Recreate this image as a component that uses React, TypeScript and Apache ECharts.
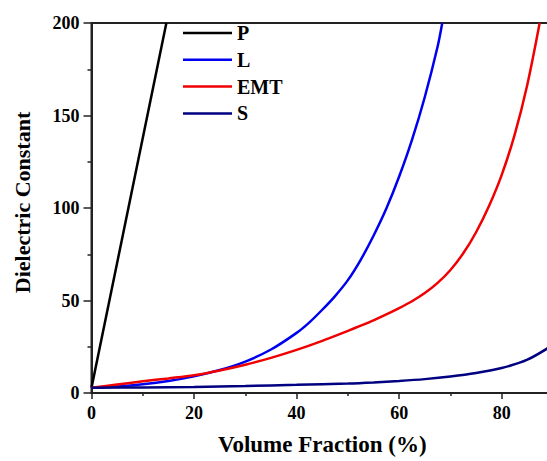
import React, { useEffect, useRef } from 'react';
import * as echarts from 'echarts';

const FONT = 'Liberation Serif';

const seriesNames = ['P', 'L', 'EMT', 'S'];
const seriesColors = ['#000000', '#0000f0', '#f00000', '#000080'];

// P (parallel model)
const xP = [0, 14.6];
const yP = [2.8, 200];

// L (Lichtenecker)
const xL = [0, 5, 10, 15, 20, 25, 30, 35, 40, 42.5, 45, 47.5, 50, 52.5, 55, 57.5, 60, 62.5, 65, 67.5, 68.4];
const yL = [2.8, 3.5, 4.7, 6.5, 9.0, 12.4, 17, 23.5, 32.5, 38.2, 45, 52.4, 61, 72, 85, 99.7, 117, 136.8, 160, 187.3, 200];

// EMT
const xE = [0, 5, 10, 15, 20, 25, 30, 35, 40, 45, 50, 52.5, 55, 57.5, 60, 62.5, 65, 67.5, 70, 72.5, 75, 77.5, 80, 82.5, 85, 87.4];
const yE = [2.8, 4.6, 6.3, 7.9, 9.6, 12.2, 15.3, 19.0, 23.3, 28.2, 33.6, 36.4, 39.3, 42.5, 45.9, 49.6, 54.0, 59.5, 66.5, 75.5, 86.9, 100.9, 117.9, 139.4, 166.8, 200];

// S (series model)
const xS = [0, 10, 20, 30, 40, 50, 55, 60, 65, 70, 75, 80, 85, 90];
const yS = [2.8, 3.0, 3.3, 3.8, 4.4, 5.1, 5.7, 6.5, 7.5, 8.9, 10.8, 13.5, 18, 26];

const xTicks = { min: 0, max: 90, interval: 20 };
const yTicks = { min: 0, max: 200, interval: 50 };

const pairs = (xs: number[], ys: number[]) => xs.map((x, i) => [x, ys[i]]);
const allData = [pairs(xP, yP), pairs(xL, yL), pairs(xE, yE), pairs(xS, yS)];

export default function App() {
  const ref = useRef<HTMLDivElement>(null);
  useEffect(() => {
    const chart = echarts.init(ref.current!, null, { renderer: 'svg' });
    const nameStyle = { fontFamily: FONT, fontWeight: 'bold' as const, color: '#000' };
    const axisCommon = {
      nameLocation: 'middle' as const,
      axisLine: { show: true, lineStyle: { color: '#222', width: 2 } },
      splitLine: { show: false },
      minorSplitLine: { show: false },
    };
    chart.setOption({
      animation: false,
      backgroundColor: '#ffffff',
      textStyle: { fontFamily: FONT },
      grid: { left: 91.5, right: 0, top: 23, bottom: 66, show: true, borderColor: '#222', borderWidth: 2 },
      legend: {
        data: seriesNames,
        orient: 'vertical',
        left: 178,
        top: 18,
        icon: 'rect',
        itemWidth: 49,
        itemHeight: 2.5,
        itemGap: 6.8,
        textStyle: { fontFamily: FONT, fontWeight: 'bold', fontSize: 20, lineHeight: 20, color: '#000' },
      },
      xAxis: {
        type: 'value',
        ...xTicks,
        name: 'Volume Fraction (%)',
        nameGap: 40,
        ...axisCommon,
        nameTextStyle: { ...nameStyle, fontSize: 23 },
        axisTick: { show: true, inside: false, length: 6, lineStyle: { color: '#222', width: 1.5 } },
        minorTick: { show: true, splitNumber: 2, length: 3, lineStyle: { color: '#222', width: 1.5 } },
        axisLabel: { fontFamily: FONT, fontWeight: 'bold', fontSize: 18, color: '#000', margin: 11, showMaxLabel: false },
      },
      yAxis: {
        type: 'value',
        ...yTicks,
        name: 'Dielectric Constant',
        nameGap: 58,
        ...axisCommon,
        nameTextStyle: { ...nameStyle, fontSize: 22, padding: [0, 0, 0, 11] },
        axisTick: { show: true, inside: false, length: 8, lineStyle: { color: '#222', width: 1.5 } },
        minorTick: { show: true, splitNumber: 2, length: 4, lineStyle: { color: '#222', width: 1.5 } },
        axisLabel: { fontFamily: FONT, fontWeight: 'bold', fontSize: 18, color: '#000', margin: 12 },
      },
      series: seriesNames.map((name, i) => ({
        name,
        type: 'line',
        data: allData[i],
        symbol: 'none',
        smooth: 0.3,
        clip: true,
        color: seriesColors[i],
        lineStyle: { color: seriesColors[i], width: 2.5 },
      })),
    });
    return () => chart.dispose();
  }, []);
  return (
    <div
      ref={ref}
      style={{ position: 'fixed', left: 0, top: 0, width: 553, height: 461, background: '#fff' }}
    />
  );
}
